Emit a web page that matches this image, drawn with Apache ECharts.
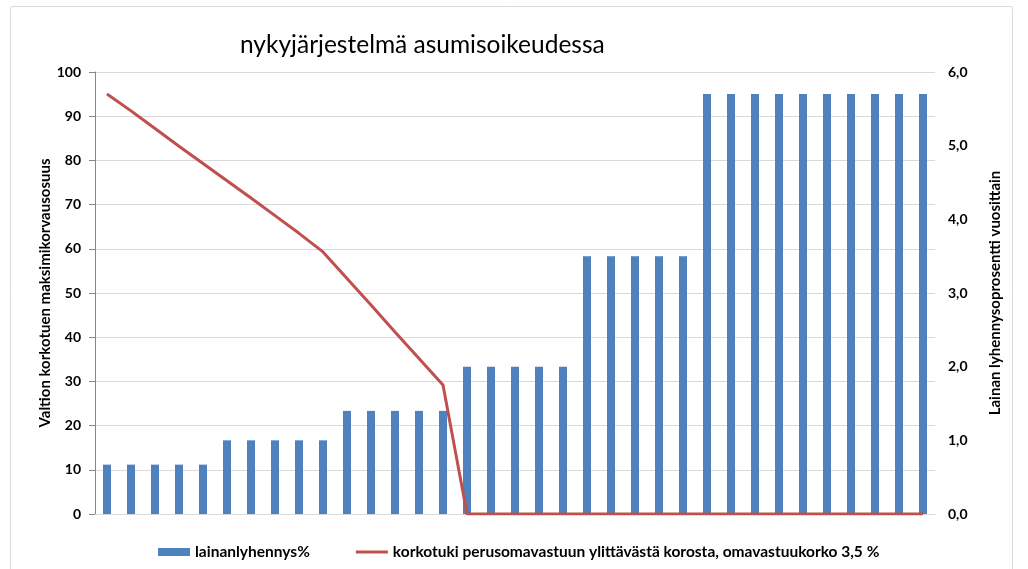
<!DOCTYPE html>
<html>
<head>
<meta charset="utf-8">
<script src="https://cdn.jsdelivr.net/npm/echarts@6/dist/echarts.min.js"></script>
<style>
  html, body { margin: 0; padding: 0; background: #fff; }
  #main { width: 1028px; height: 569px; }
</style>
</head>
<body>
<div id="main"></div>
<script>
// vuodet 1..35
var years = ['1','2','3','4','5','6','7','8','9','10','11','12','13','14','15','16','17','18',
             '19','20','21','22','23','24','25','26','27','28','29','30','31','32','33','34','35'];

// lainanlyhennys% (oikea akseli)
var lyhennys = [0.67,0.67,0.67,0.67,0.67, 1.0,1.0,1.0,1.0,1.0, 1.4,1.4,1.4,1.4,1.4,
                2.0,2.0,2.0,2.0,2.0, 3.5,3.5,3.5,3.5,3.5,
                5.7,5.7,5.7,5.7,5.7,5.7,5.7,5.7,5.7,5.7];

// korkotuki (vasen akseli)
var korkotuki = [95,91.2,87.2,83.2,79.3,75.4,71.5,67.5,63.5,59.3,
                 53.3,47.3,41.2,35.2,29.2, 0,0,0,0,0,
                 0,0,0,0,0,0,0,0,0,0,0,0,0,0,0];

var leftTicks = [0,10,20,30,40,50,60,70,80,90,100];
var rightTicks = ['0,0','1,0','2,0','3,0','4,0','5,0','6,0'];

var FONT = 'Lato';

var chart = echarts.init(document.getElementById('main'));

var option = {
    backgroundColor: '#fff',
    textStyle: { fontFamily: FONT },
    animation: false,
    graphic: [{
        type: 'rect',
        shape: { x: 10.5, y: 6.5, width: 1002, height: 580, r: 2 },
        style: { fill: null, stroke: '#d9d9d9', lineWidth: 1 },
        silent: true
    }],
    title: {
        text: 'nykyjärjestelmä asumisoikeudessa',
        left: 235,
        top: 28,
        textStyle: { fontFamily: FONT, fontSize: 24.5, fontWeight: 'normal', color: '#000' }
    },
    legend: {
        left: 153,
        top: 539,
        itemWidth: 32,
        itemHeight: 8,
        itemGap: 46,
        textStyle: { fontFamily: FONT, fontSize: 15.5, fontWeight: 'bold', color: '#000' },
        data: [
            { name: 'lainanlyhennys%', icon: 'rect' },
            { name: 'korkotuki perusomavastuun ylittävästä korosta, omavastuukorko 3,5 %',
              icon: 'path://M0,0L32,0L32,3L0,3Z' }
        ]
    },
    grid: { left: 95, right: 93, top: 72, bottom: 55 },
    xAxis: {
        type: 'category',
        data: years,
        axisLine: { show: true, lineStyle: { color: '#d9d9d9' } },
        axisTick: { show: false },
        axisLabel: { show: false }
    },
    yAxis: [{
        type: 'value',
        min: 0, max: 100, interval: 10,
        name: 'Valtion korkotuen maksimikorvausosuus',
        nameLocation: 'middle',
        nameRotate: 90,
        nameGap: 42,
        nameMoveOverlap: false,
        nameTextStyle: { fontFamily: FONT, fontSize: 15, fontWeight: 'bold', color: '#000' },
        axisLine: { show: true, lineStyle: { color: '#868686' } },
        axisTick: { show: true, length: 6, lineStyle: { color: '#868686' } },
        axisLabel: {
            margin: 14, fontFamily: FONT, fontSize: 14, fontWeight: 'bold', color: '#000',
            formatter: function (v) { return leftTicks.indexOf(v) >= 0 ? String(v) : ''; }
        },
        splitLine: { show: true, lineStyle: { color: '#d9d9d9' } }
    }, {
        type: 'value',
        min: 0, max: 6, interval: 1,
        position: 'right',
        name: 'Lainan lyhennysoprosentti vuosittain',
        nameLocation: 'middle',
        nameRotate: 90,
        nameGap: 53,
        nameMoveOverlap: false,
        nameTextStyle: { fontFamily: FONT, fontSize: 15, fontWeight: 'bold', color: '#000' },
        axisLine: { show: false },
        axisTick: { show: false },
        axisLabel: {
            margin: 13, fontFamily: FONT, fontSize: 14, fontWeight: 'bold', color: '#000',
            formatter: function (v) { return rightTicks[Math.round(v)]; }
        },
        splitLine: { show: false }
    }],
    series: [{
        name: 'lainanlyhennys%',
        type: 'bar',
        yAxisIndex: 1,
        barWidth: 8,
        itemStyle: { color: '#4f81bd' },
        data: lyhennys
    }, {
        name: 'korkotuki perusomavastuun ylittävästä korosta, omavastuukorko 3,5 %',
        type: 'line',
        yAxisIndex: 0,
        symbol: 'none',
        lineStyle: { color: '#c0504d', width: 3 },
        itemStyle: { color: '#c0504d' },
        data: korkotuki
    }]
};

chart.setOption(option);
</script>
</body>
</html>
